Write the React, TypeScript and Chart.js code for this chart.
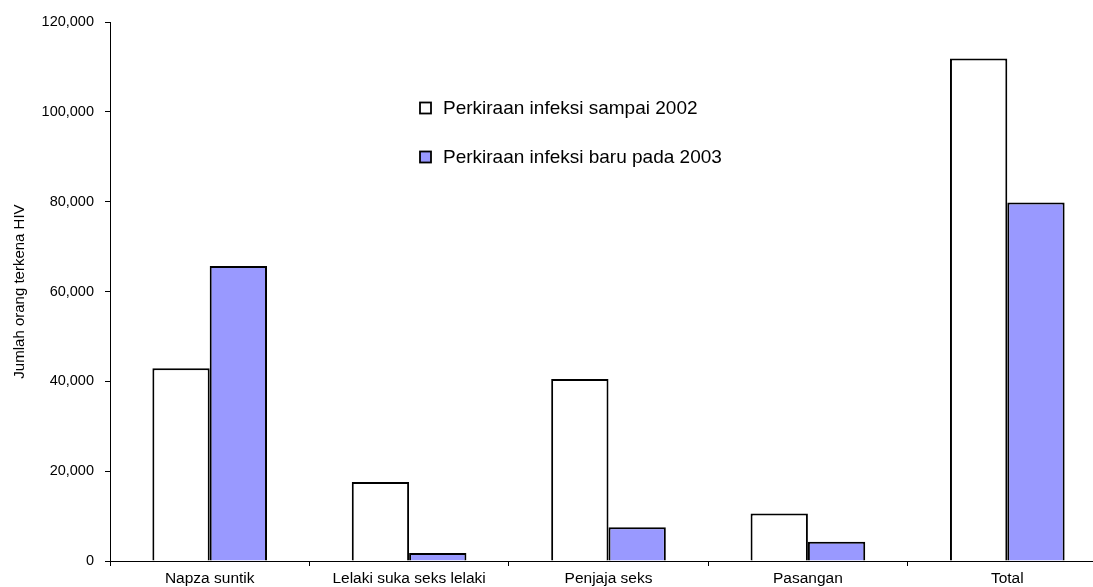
import React, { useEffect, useRef } from "react";
import { Chart, registerables } from "chart.js";

Chart.register(...registerables);

const categories = ["Napza suntik", "Lelaki suka seks lelaki", "Penjaja seks", "Pasangan", "Total"];
const seriesLabels = ["Perkiraan infeksi sampai 2002", "Perkiraan infeksi baru pada 2003"];
const until2002 = [42900, 17600, 40500, 10600, 111900];
const new2003 = [65700, 1800, 7500, 4300, 79800];
const yTicks = [0, 20000, 40000, 60000, 80000, 100000, 120000];
const yTitle = "Jumlah orang terkena HIV";

const FONT = "'Liberation Sans', Arial, Helvetica, sans-serif";
const BLUE = "#9999ff";

const legendPlugin = {
  id: "insideLegend",
  afterDraw(chart: any) {
    const ctx = chart.ctx;
    const items = [
      { label: seriesLabels[0], fill: "#ffffff", y: 108 },
      { label: seriesLabels[1], fill: BLUE, y: 157 },
    ];
    ctx.save();
    ctx.font = `19px ${FONT}`;
    ctx.textBaseline = "middle";
    ctx.textAlign = "left";
    for (const it of items) {
      ctx.fillStyle = it.fill;
      ctx.fillRect(420, it.y - 5.5, 11, 11);
      ctx.strokeStyle = "#000";
      ctx.lineWidth = 1.8;
      ctx.strokeRect(420, it.y - 5.5, 11, 11);
      ctx.fillStyle = "#000";
      ctx.fillText(it.label, 443, it.y + 1);
    }
    ctx.restore();
  },
};

export default function App() {
  const ref = useRef<HTMLCanvasElement | null>(null);
  useEffect(() => {
    if (!ref.current) return;
    const chart = new Chart(ref.current, {
      type: "bar",
      data: {
        labels: categories,
        datasets: [
          {
            label: seriesLabels[0],
            data: until2002,
            backgroundColor: "#ffffff",
            borderColor: "#000000",
            borderWidth: 2,
            categoryPercentage: 0.575,
            barPercentage: 1,
          },
          {
            label: seriesLabels[1],
            data: new2003,
            backgroundColor: BLUE,
            borderColor: "#000000",
            borderWidth: 2,
            categoryPercentage: 0.575,
            barPercentage: 1,
          },
        ],
      },
      options: {
        animation: false,
        responsive: false,
        maintainAspectRatio: false,
        layout: { padding: { left: 11, top: 22, right: 3, bottom: 0 } },
        plugins: { legend: { display: false }, tooltip: { enabled: false } },
        scales: {
          x: {
            grid: { display: true, drawOnChartArea: false, tickLength: 5, color: "#000", offset: true },
            border: { display: true, color: "#000", width: 1 },
            ticks: { color: "#000", font: { family: FONT, size: 15.5 }, padding: 3, maxRotation: 0, autoSkip: false },
            afterFit: (s: any) => { s.height = 26; },
          },
          y: {
            min: 0,
            max: 120000,
            afterBuildTicks: (s: any) => { s.ticks = yTicks.map((v) => ({ value: v })); },
            grid: { display: true, drawOnChartArea: false, tickLength: 5, color: "#000" },
            border: { display: true, color: "#000", width: 1 },
            ticks: {
              color: "#000",
              font: { family: FONT, size: 14.5 },
              padding: 11,
              callback: (v: any) => Number(v).toLocaleString("en-US"),
            },
            title: { display: true, text: yTitle, color: "#000", font: { family: FONT, size: 15 }, padding: 0 },
            afterFit: (s: any) => { s.width = 99; },
          },
        },
      },
      plugins: [legendPlugin],
    });
    return () => chart.destroy();
  }, []);
  return (
    <div style={{ position: "fixed", left: 0, top: 0, width: 1093, height: 587, overflow: "hidden", background: "#fff" }}>
      <canvas ref={ref} width={1110} height={587} style={{ width: 1110, height: 587, display: "block" }} />
    </div>
  );
}
